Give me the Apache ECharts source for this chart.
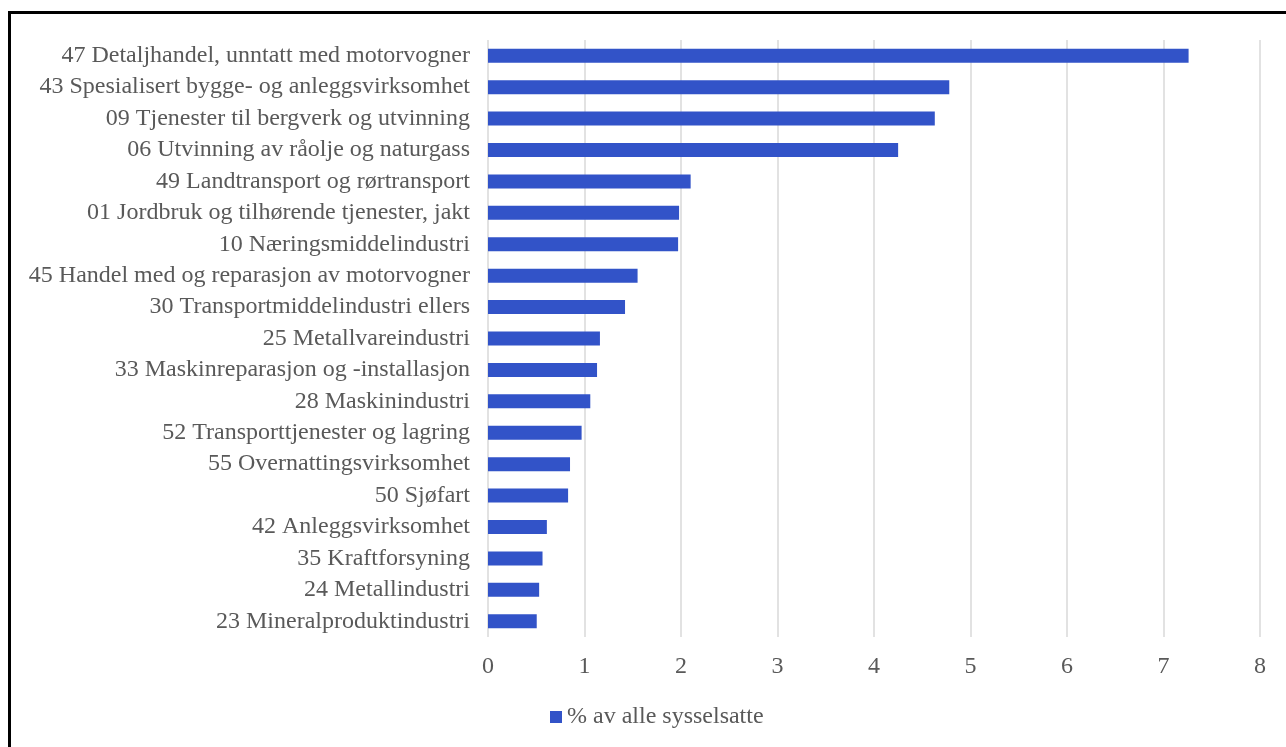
<!DOCTYPE html>
<html>
<head>
<meta charset="utf-8">
<script src="https://cdn.jsdelivr.net/npm/echarts@6/dist/echarts.min.js"></script>
<style>
html,body{margin:0;padding:0;background:#fff;}
#chart{width:1286px;height:747px;}
</style>
</head>
<body>
<div id="chart"></div>
<script>
var categories = [
  "47 Detaljhandel, unntatt med motorvogner",
  "43 Spesialisert bygge- og anleggsvirksomhet",
  "09 Tjenester til bergverk og utvinning",
  "06 Utvinning av råolje og naturgass",
  "49 Landtransport og rørtransport",
  "01 Jordbruk og tilhørende tjenester, jakt",
  "10 Næringsmiddelindustri",
  "45 Handel med og reparasjon av motorvogner",
  "30 Transportmiddelindustri ellers",
  "25 Metallvareindustri",
  "33 Maskinreparasjon og -installasjon",
  "28 Maskinindustri",
  "52 Transporttjenester og lagring",
  "55 Overnattingsvirksomhet",
  "50 Sjøfart",
  "42 Anleggsvirksomhet",
  "35 Kraftforsyning",
  "24 Metallindustri",
  "23 Mineralproduktindustri"
];
var values = [7.26, 4.78, 4.63, 4.25, 2.10, 1.98, 1.97, 1.55, 1.42, 1.16, 1.13, 1.06, 0.97, 0.85, 0.83, 0.61, 0.565, 0.53, 0.505];
var seriesName = "% av alle sysselsatte";
var xMin = 0, xMax = 8, xInterval = 1;

var fontFam = "'Liberation Serif','Times New Roman',serif";
var txt = '#595959';
var chart = echarts.init(document.getElementById('chart'));
chart.setOption({
  animation: false,
  backgroundColor: '#fff',
  textStyle: {fontFamily: fontFam},
  graphic: [{
    type: 'rect',
    shape: {x: 9.5, y: 12.5, width: 1400, height: 900},
    style: {fill: 'none', stroke: '#000', lineWidth: 3},
    silent: true,
    z: 100
  }],
  grid: {left: 488, right: 26, top: 40, bottom: 110, containLabel: false},
  legend: {
    left: 545, top: 700,
    icon: 'rect', itemWidth: 12, itemHeight: 12, itemGap: 10,
    itemStyle: {borderWidth: 0},
    textStyle: {fontFamily: fontFam, fontSize: 24, color: txt},
    data: [seriesName]
  },
  xAxis: {
    type: 'value', min: xMin, max: xMax, interval: xInterval,
    axisLine: {show: false}, axisTick: {show: false},
    axisLabel: {fontFamily: fontFam, fontSize: 24, color: txt, margin: 18},
    splitLine: {show: true, lineStyle: {color: '#d9d9d9', width: 1.5}}
  },
  yAxis: {
    type: 'category', data: categories, inverse: true,
    axisLine: {show: false}, axisTick: {show: false},
    axisLabel: {fontFamily: fontFam, fontSize: 24, color: txt, margin: 18}
  },
  series: [{
    name: seriesName, type: 'bar', data: values,
    barWidth: 14,
    itemStyle: {color: '#3253c8', borderWidth: 0}
  }]
});
</script>
</body>
</html>
